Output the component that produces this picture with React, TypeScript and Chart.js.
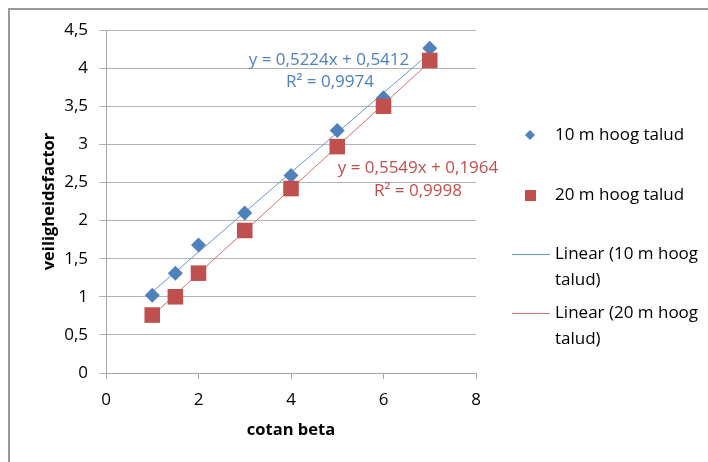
import React, { useEffect, useRef } from 'react';
import { Chart, registerables } from 'chart.js';

Chart.register(...registerables);

// ---- data ----
const xValues = [1, 1.5, 2, 3, 4, 5, 6, 7];
const series10m = [1.02, 1.31, 1.68, 2.1, 2.59, 3.18, 3.61, 4.26];
const series20m = [0.76, 1.0, 1.31, 1.87, 2.42, 2.97, 3.5, 4.1];
const seriesLabels = ['10 m hoog talud', '20 m hoog talud'];
const trendLabels = ['Linear (10 m hoog talud)', 'Linear (20 m hoog talud)'];
const trendSlopes = [0.5224, 0.5549];
const trendIntercepts = [0.5412, 0.1964];
const trendR2 = [0.9974, 0.9998];
const xTitle = 'cotan beta';
const yTitle = 'veiligheidsfactor';

const BLUE = '#4F81BD';
const RED = '#C0504D';
const BLUE_LINE = '#6F96CB';
const RED_LINE = '#D2716E';
const FONT = "'Open Sans', sans-serif";

const fmt = (v: number) => String(v).replace('.', ',');

const trendPoints = (i: number) => {
  const x0 = Math.min(...xValues);
  const x1 = Math.max(...xValues);
  return [x0, x1].map((x) => ({ x, y: trendSlopes[i] * x + trendIntercepts[i] }));
};

const framePlugin = {
  id: 'frame',
  beforeDraw(chart: any) {
    const ctx = chart.ctx;
    ctx.save();
    ctx.fillStyle = '#ffffff';
    ctx.fillRect(0, 0, chart.width, chart.height);
    ctx.strokeStyle = '#9a9a9a';
    ctx.lineWidth = 2;
    ctx.strokeRect(9, 9, chart.width + 20, chart.height + 20);
    ctx.restore();
  },
};

const annotPlugin = {
  id: 'annot',
  afterDraw(chart: any) {
    const ctx = chart.ctx;
    ctx.save();
    ctx.font = `17px ${FONT}`;
    ctx.textAlign = 'center';
    ctx.textBaseline = 'middle';
    const eqPos = [
      [329, 60, 330, 82],
      [418, 168, 418, 191],
    ];
    const colors = [BLUE, RED];
    const lineColors = [BLUE_LINE, RED_LINE];
    for (let i = 0; i < 2; i++) {
      ctx.fillStyle = colors[i];
      const sign = trendIntercepts[i] >= 0 ? '+' : '-';
      ctx.fillText(
        `y = ${fmt(trendSlopes[i])}x ${sign} ${fmt(Math.abs(trendIntercepts[i]))}`,
        eqPos[i][0],
        eqPos[i][1]
      );
      ctx.fillText(`R² = ${fmt(trendR2[i])}`, eqPos[i][2], eqPos[i][3]);
    }

    // legend
    ctx.textAlign = 'left';
    // diamond
    ctx.fillStyle = BLUE;
    ctx.beginPath();
    ctx.moveTo(530, 130);
    ctx.lineTo(535, 135);
    ctx.lineTo(530, 140);
    ctx.lineTo(525, 135);
    ctx.closePath();
    ctx.fill();
    ctx.fillStyle = '#000';
    ctx.fillText(seriesLabels[0], 555, 135);
    // square
    ctx.fillStyle = RED;
    ctx.fillRect(525, 190, 11, 11);
    ctx.fillStyle = '#000';
    ctx.fillText(seriesLabels[1], 555, 195);
    // lines
    const lineY = [254, 313];
    for (let i = 0; i < 2; i++) {
      ctx.fillStyle = lineColors[i];
      ctx.fillRect(512, lineY[i], 38, 1);
      const label: string = trendLabels[i];
      const cut = label.lastIndexOf(' ');
      ctx.fillStyle = '#000';
      ctx.fillText(label.slice(0, cut), 555, lineY[i]);
      ctx.fillText(label.slice(cut + 1), 555, lineY[i] + 26);
    }
    ctx.restore();
  },
};

export default function App() {
  const ref = useRef<HTMLCanvasElement | null>(null);
  useEffect(() => {
    if (!ref.current) return;
    const chart = new Chart(ref.current, {
      type: 'scatter',
      data: {
        datasets: [
          {
            label: seriesLabels[0],
            data: xValues.map((x, i) => ({ x, y: series10m[i] })),
            backgroundColor: BLUE,
            borderColor: BLUE,
            pointStyle: 'rectRot',
            pointRadius: 7.5,
            pointBorderWidth: 0,
            order: 2,
          },
          {
            label: seriesLabels[1],
            data: xValues.map((x, i) => ({ x, y: series20m[i] })),
            backgroundColor: RED,
            borderColor: RED,
            pointStyle: 'rect',
            pointRadius: 11,
            pointBorderWidth: 0,
            order: 1,
          },
          {
            type: 'line',
            label: trendLabels[0],
            data: trendPoints(0),
            borderColor: BLUE_LINE,
            borderWidth: 1,
            pointRadius: 0,
            showLine: true,
            order: 4,
          } as any,
          {
            type: 'line',
            label: trendLabels[1],
            data: trendPoints(1),
            borderColor: RED_LINE,
            borderWidth: 1,
            pointRadius: 0,
            showLine: true,
            order: 3,
          } as any,
        ],
      },
      options: {
        animation: false,
        responsive: false,
        devicePixelRatio: 1,
        layout: { padding: { top: 30, left: 0, right: 232, bottom: 0 } },
        plugins: {
          legend: { display: false },
          tooltip: { enabled: false },
        },
        scales: {
          x: {
            type: 'linear',
            min: 0,
            max: 8,
            ticks: {
              stepSize: 2,
              color: '#000',
              font: { family: FONT, size: 17 },
              padding: 11,
              callback: (v: any) => fmt(Number(v)),
            },
            grid: {
              drawOnChartArea: false,
              drawTicks: true,
              tickLength: 6,
              color: '#a6a6a6',
            },
            border: { color: '#a6a6a6' },
            title: {
              display: true,
              text: xTitle,
              color: '#000',
              font: { family: FONT, size: 16.5, weight: 'bold' },
              padding: { top: 0, bottom: 22 },
            },
            afterFit: (s: any) => {
              s.height = 89;
            },
          },
          y: {
            type: 'linear',
            min: 0,
            max: 4.5,
            ticks: {
              stepSize: 0.5,
              color: '#000',
              font: { family: FONT, size: 17 },
              padding: 11,
              callback: (v: any) => fmt(Number(v)),
            },
            grid: {
              color: '#b3b3b3',
              tickLength: 7,
            },
            border: { color: '#a6a6a6' },
            title: {
              display: true,
              text: yTitle,
              color: '#000',
              font: { family: FONT, size: 16.5, weight: 'bold' },
              padding: { top: 39, bottom: 0 },
            },
            afterFit: (s: any) => {
              s.width = 106;
            },
          },
        },
      },
      plugins: [framePlugin, annotPlugin],
    });
    return () => chart.destroy();
  }, []);
  return (
    <div style={{ position: 'absolute', left: 0, top: 0, width: 708, height: 462 }}>
      <canvas ref={ref} width={708} height={462} style={{ display: 'block' }} />
    </div>
  );
}
